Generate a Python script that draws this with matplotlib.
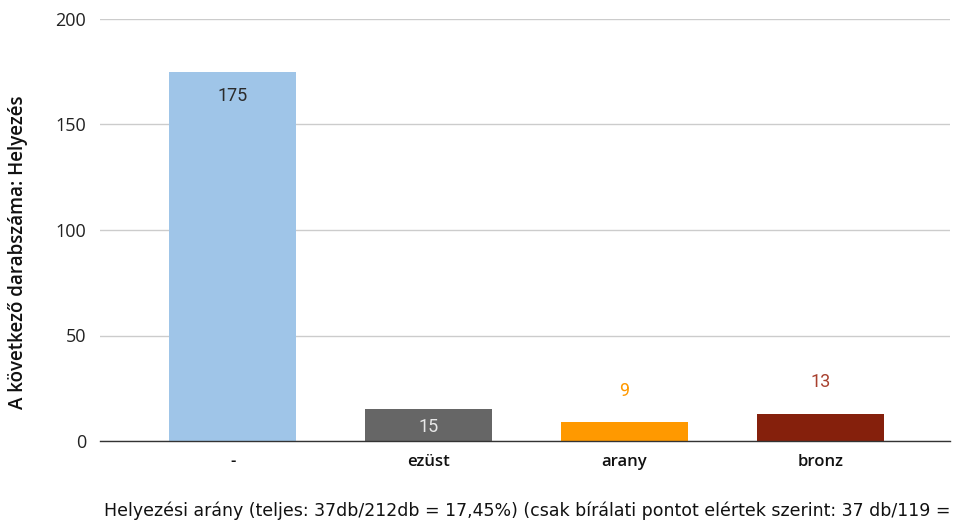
import matplotlib
matplotlib.use("Agg")
import matplotlib.pyplot as plt

categories = ["-", "ezüst", "arany", "bronz"]
counts = [175, 15, 9, 13]
bar_colors = ["#9fc5e8", "#666666", "#ff9900", "#85200c"]
label_colors = ["#2b2b2b", "#e8e8e8", "#ff9900", "#a8402e"]
label_inside = [True, True, False, False]
yticks = [0, 50, 100, 150, 200]
y_label = "A következő darabszáma: Helyezés"
x_title = ("Helyezési arány (teljes: 37db/212db = 17,45%) "
           "(csak bírálati pontot elértek szerint: 37 db/119 = ")

W, H = 955, 521
fig = plt.figure(figsize=(W / 100, H / 100), dpi=100)
ax = fig.add_axes([100 / W, (H - 441) / H, 850 / W, 422 / H])

x = list(range(len(categories)))
bars = ax.bar(x, counts, width=0.648, color=bar_colors, zorder=3)

for xi, v, c, inside in zip(x, counts, label_colors, label_inside):
    if inside:
        off = -11 if v > 50 else -6
        ax.annotate(str(v), (xi, v), xytext=(0, off), textcoords="offset points",
                    ha="center", va="top", color=c, fontsize=13,
                    family=["Roboto", "DejaVu Sans"])
    else:
        ax.annotate(str(v), (xi, v), xytext=(0, 16), textcoords="offset points",
                    ha="center", va="bottom", color=c, fontsize=13,
                    family=["Roboto", "DejaVu Sans"])

ax.set_xlim(-0.679, 3.663)
ax.set_ylim(0, 200)
ax.set_yticks(yticks)
ax.set_yticklabels([str(t) for t in yticks], fontsize=13,
                   family=["Open Sans", "DejaVu Sans"], color="#222222")
ax.set_xticks(x)
ax.set_xticklabels(categories, fontsize=12, family=["Open Sans", "DejaVu Sans"],
                   color="#111111", fontweight="semibold")
ax.tick_params(axis="both", length=0)
ax.tick_params(axis="y", pad=10)
ax.tick_params(axis="x", pad=9)

ax.grid(axis="y", color="#cccccc", linewidth=1, zorder=0)
for s in ["top", "right", "left"]:
    ax.spines[s].set_visible(False)
ax.spines["bottom"].set_color("#333333")
ax.spines["bottom"].set_linewidth(1)
ax.spines["bottom"].set_zorder(4)

fig.text(18 / W, (H - 252) / H, y_label, rotation=90, ha="center", va="center",
         fontsize=13.5, family=["Open Sans", "DejaVu Sans"], color="#111111",
         fontweight="semibold")
fig.text(104 / W, (H - 511) / H, x_title, ha="left", va="center", fontsize=12.5,
         family=["Liberation Sans Narrow", "DejaVu Sans"], color="#111111")

fig.savefig("out.png", dpi=100, facecolor="white")
